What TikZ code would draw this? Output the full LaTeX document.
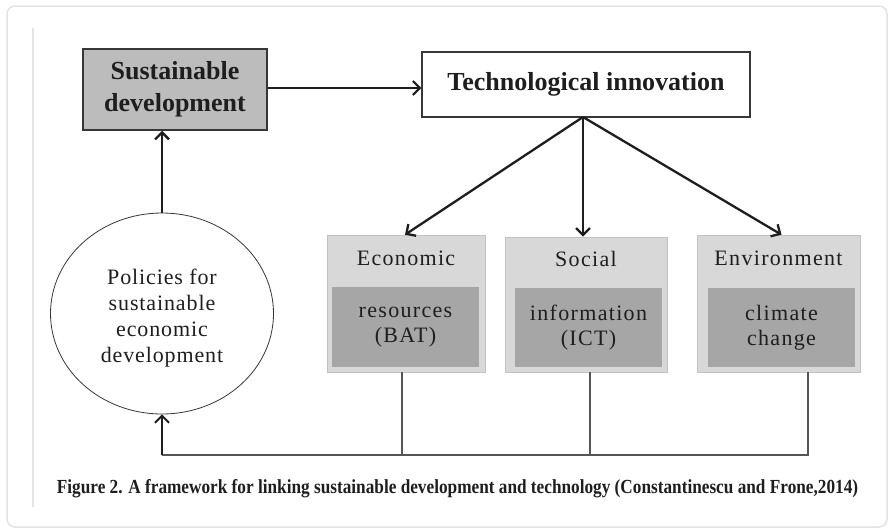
\documentclass[tikz,border=0pt]{standalone}
\usepackage{fontspec}
\setmainfont{Liberation Serif}
\newfontfamily\spacedfont[LetterSpace=6]{Liberation Serif}
\newfontfamily\circfont[LetterSpace=4]{Liberation Serif}
\usetikzlibrary{arrows.meta,shapes.geometric,calc}
\definecolor{ink}{RGB}{30,30,30}
\definecolor{edge}{RGB}{55,55,55}
\definecolor{sdfill}{RGB}{188,188,188}
\definecolor{headfill}{RGB}{216,216,216}
\definecolor{bodyfill}{RGB}{166,166,166}
\definecolor{feed}{RGB}{85,85,85}
\definecolor{frame}{RGB}{228,228,228}
\tikzset{
  mainbox/.style={draw=edge, line width=1.5pt, inner sep=0pt, align=center,
    font=\fontsize{26}{32}\selectfont\bfseries, text=ink},
  headbox/.style={fill=headfill, draw=headfill!90!black, line width=0.6pt, inner sep=0pt},
  bodybox/.style={fill=bodyfill, draw=none, inner sep=0pt, align=center,
    font=\spacedfont\fontsize{22}{25}\selectfont, text=ink},
  headtext/.style={font=\spacedfont\fontsize{22}{25}\selectfont, text=ink, inner sep=0pt},
  arr/.style={draw=ink, line width=2.3pt, -{Straight Barb[length=7pt,width=14pt]}},
  fb/.style={draw=feed, line width=1.3pt},
}
\begin{document}
\begin{tikzpicture}[x=1pt,y=-1pt]
  \useasboundingbox (0,0) rectangle (891,530);
  \fill[white] (0,0) rectangle (891,530);
  % page frame
  \draw[frame, line width=1.5pt, rounded corners=8pt] (7,6) rectangle (887,527);
  \draw[frame, line width=1.5pt] (33,28) -- (33,507);

  % top row
  \node[mainbox, fill=sdfill, minimum width=184pt, minimum height=81pt]
    (sd) at (175,89.5) {Sustainable\\development};
  \node[mainbox, minimum width=328pt, minimum height=65pt]
    (ti) at (586,84.5) {Technological innovation};

  % policies circle and its text
  \node[ellipse, draw=edge, line width=0.8pt, minimum width=223pt, minimum height=201pt]
    (circ) at (162,313.5) {};
  \node[align=center, inner sep=0pt, font=\circfont\fontsize{22}{26}\selectfont, text=ink]
    (circt) at (162,318) {Policies for\\sustainable\\economic\\development};

  % three pillars
  \node[headbox, minimum width=158pt, minimum height=137pt] (econ) at (406,303.5) {};
  \node[headbox, minimum width=162pt, minimum height=135pt] (soc) at (586,304.5) {};
  \node[headbox, minimum width=163pt, minimum height=137pt] (env) at (778.5,303.5) {};

  \node[headtext] (econt) at (406,258) {Economic};
  \node[headtext] (soct) at (586,259) {Social};
  \node[headtext] (envt) at (778.5,258) {Environment};

  \node[bodybox, minimum width=147pt, minimum height=80pt] (econd) at (405.5,327) {resources\\(BAT)};
  \node[bodybox, minimum width=147pt, minimum height=79pt] (socd) at (588.5,327.5) {information\\(ICT)};
  \node[bodybox, minimum width=147pt, minimum height=79pt] (envd) at (781.5,327.5) {climate\\change};

  % arrows
  \coordinate (tib) at (583,117);
  \draw[arr, line width=2pt] (sd.east |- 0,88) -- (ti.west |- 0,88);
  \draw[arr] (circ.north) -- (circ.north |- sd.south);
  \draw[arr] (tib) -- ([xshift=-1pt]econ.north);
  \draw[arr] (tib) -- (tib |- soc.north);
  \draw[arr] (tib) -- ([xshift=3pt]env.north);

  % feedback loop
  \coordinate (base) at (162,455);
  \draw[fb] ([xshift=-4pt]econ.south) -- ([xshift=-4pt]econ.south |- base);
  \draw[fb] ([xshift=4pt]soc.south) -- ([xshift=4pt]soc.south |- base);
  \draw[fb] ([xshift=29.5pt]env.south) -- ([xshift=29.5pt]env.south |- base) -- (base);
  \draw[arr, line width=2pt] (base) -- (circ.south);

  % caption
  \node[inner sep=0pt, text=ink] (cap) at (457.5,489)
    {\scalebox{0.907}[1.05]{\fontsize{19}{22}\selectfont\bfseries Figure 2. A framework for linking sustainable development and technology (Constantinescu and Frone,2014)}};
\end{tikzpicture}
\end{document}
